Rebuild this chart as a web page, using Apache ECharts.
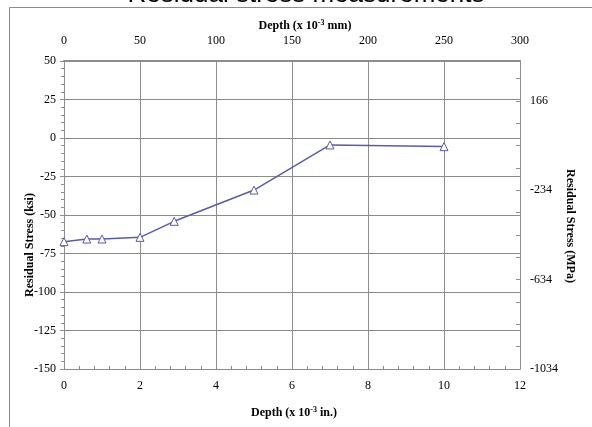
<!DOCTYPE html>
<html>
<head>
<meta charset="utf-8">
<script src="https://cdn.jsdelivr.net/npm/echarts@6/dist/echarts.min.js"></script>
<style>
  html, body { margin: 0; padding: 0; background: #fff; }
  #chart { width: 592px; height: 427px; }
</style>
</head>
<body>
<div id="chart"></div>
<script>
// Measured residual stress profile
const depthIn = [0, 0.6, 1.0, 2.0, 2.9, 5.0, 7.0, 10.0];          // depth, x 10^-3 in.
const stressKsi = [-67.3, -65.6, -65.6, -64.5, -54.1, -33.8, -4.5, -5.6]; // ksi

// Axis settings
const depthInTicks = { min: 0, max: 12, step: 2 };
const depthMmTicks = { min: 0, max: 300, step: 50 };
const ksiTicks = { min: -150, max: 50, step: 25 };
const mpaLowest = -1034;            // MPa at the bottom of the stress axis
const mpaStep = 400;
const KSI_TO_MPA = 6.894757;

const serif = '"Liberation Serif", "Times New Roman", serif';
const gridColor = '#8c8c8c';
const lineColor = '#5b5ba6';

// MPa axis is drawn as an offset from its lowest value so ticks start at -1034
const mpaSpan = (ksiTicks.max - ksiTicks.min) * KSI_TO_MPA;

const chart = echarts.init(document.getElementById('chart'), null, { renderer: 'canvas' });

const labelStyle = { color: '#000', fontFamily: serif, fontSize: 12 };
const titleRich = {
  b: { fontFamily: serif, fontSize: 12, fontWeight: 'bold', color: '#000' },
  s: { fontFamily: serif, fontSize: 8, fontWeight: 'bold', color: '#000', padding: [0, 0, 6, 0] }
};

chart.setOption({
  animation: false,
  backgroundColor: '#fff',
  grid: { left: 64, right: 72, top: 61, bottom: 58, containLabel: false },
  xAxis: [
    {
      type: 'value', position: 'bottom',
      min: depthInTicks.min, max: depthInTicks.max, interval: depthInTicks.step,
      axisLine: { show: true, onZero: false, lineStyle: { color: gridColor, width: 1 } },
      axisTick: { show: true, inside: true, length: 4, lineStyle: { color: gridColor } },
      minorTick: { show: true, splitNumber: 5, length: 3, lineStyle: { color: gridColor } },
      axisLabel: Object.assign({ margin: 11 }, labelStyle),
      splitLine: { show: true, lineStyle: { color: gridColor, width: 1 } }
    },
    {
      type: 'value', position: 'top',
      min: depthMmTicks.min, max: depthMmTicks.max, interval: depthMmTicks.step,
      axisLine: { show: true, onZero: false, lineStyle: { color: gridColor, width: 2 } },
      axisTick: { show: false },
      axisLabel: Object.assign({ margin: 14 }, labelStyle),
      splitLine: { show: false }
    }
  ],
  yAxis: [
    {
      type: 'value', position: 'left',
      min: ksiTicks.min, max: ksiTicks.max, interval: ksiTicks.step,
      axisLine: { show: true, onZero: false, lineStyle: { color: gridColor, width: 1 } },
      axisTick: { show: true, length: 4, lineStyle: { color: gridColor } },
      minorTick: { show: true, splitNumber: 5, length: 3, lineStyle: { color: gridColor } },
      axisLabel: Object.assign({ margin: 8 }, labelStyle),
      splitLine: { show: true, lineStyle: { color: gridColor, width: 1 } }
    },
    {
      type: 'value', position: 'right',
      min: 0, max: mpaSpan, interval: mpaStep,
      axisLine: { show: true, onZero: false, lineStyle: { color: gridColor, width: 1 } },
      axisTick: { show: true, inside: true, length: 4, lineStyle: { color: gridColor } },
      minorTick: { show: true, splitNumber: 4, length: 4, lineStyle: { color: gridColor } },
      axisLabel: Object.assign({
        margin: 10, showMaxLabel: false,
        formatter: v => String(Math.round(v + mpaLowest))
      }, labelStyle),
      splitLine: { show: false }
    }
  ],
  series: [{
    type: 'line',
    xAxisIndex: 0, yAxisIndex: 0,
    data: depthIn.map((d, i) => [d, stressKsi[i]]),
    symbol: 'triangle', symbolSize: 8,
    itemStyle: { color: '#fff', borderColor: lineColor, borderWidth: 1 },
    lineStyle: { color: lineColor, width: 1.5 },
    z: 5
  }],
  graphic: [
    // chart frame
    { type: 'rect', shape: { x: 9.5, y: 7.5, width: 700, height: 500 },
      style: { fill: null, stroke: '#8c8c8c', lineWidth: 1 }, silent: true },
    // chart title
    { type: 'text', x: 306, y: 8, style: {
        text: 'Residual stress measurements', fontFamily: '"Liberation Sans", Arial, sans-serif',
        fontSize: 26, fill: '#000', align: 'center', verticalAlign: 'bottom' } },
    // top axis title
    { type: 'text', x: 305, y: 26, style: {
        text: '{b|Depth (x 10}{s|-3}{b| mm)}', rich: titleRich, align: 'center', verticalAlign: 'middle' } },
    // bottom axis title
    { type: 'text', x: 294, y: 413, style: {
        text: '{b|Depth (x 10}{s|-3}{b| in.)}', rich: titleRich, align: 'center', verticalAlign: 'middle' } },
    // left axis title
    { type: 'text', x: 30, y: 245, rotation: Math.PI / 2, style: {
        text: 'Residual Stress (ksi)', fontFamily: serif, fontSize: 12, fontWeight: 'bold',
        fill: '#000', align: 'center', verticalAlign: 'middle' } },
    // right axis title
    { type: 'text', x: 570, y: 226, rotation: -Math.PI / 2, style: {
        text: 'Residual Stress (MPa)', fontFamily: serif, fontSize: 12, fontWeight: 'bold',
        fill: '#000', align: 'center', verticalAlign: 'middle' } }
  ]
});
</script>
</body>
</html>
